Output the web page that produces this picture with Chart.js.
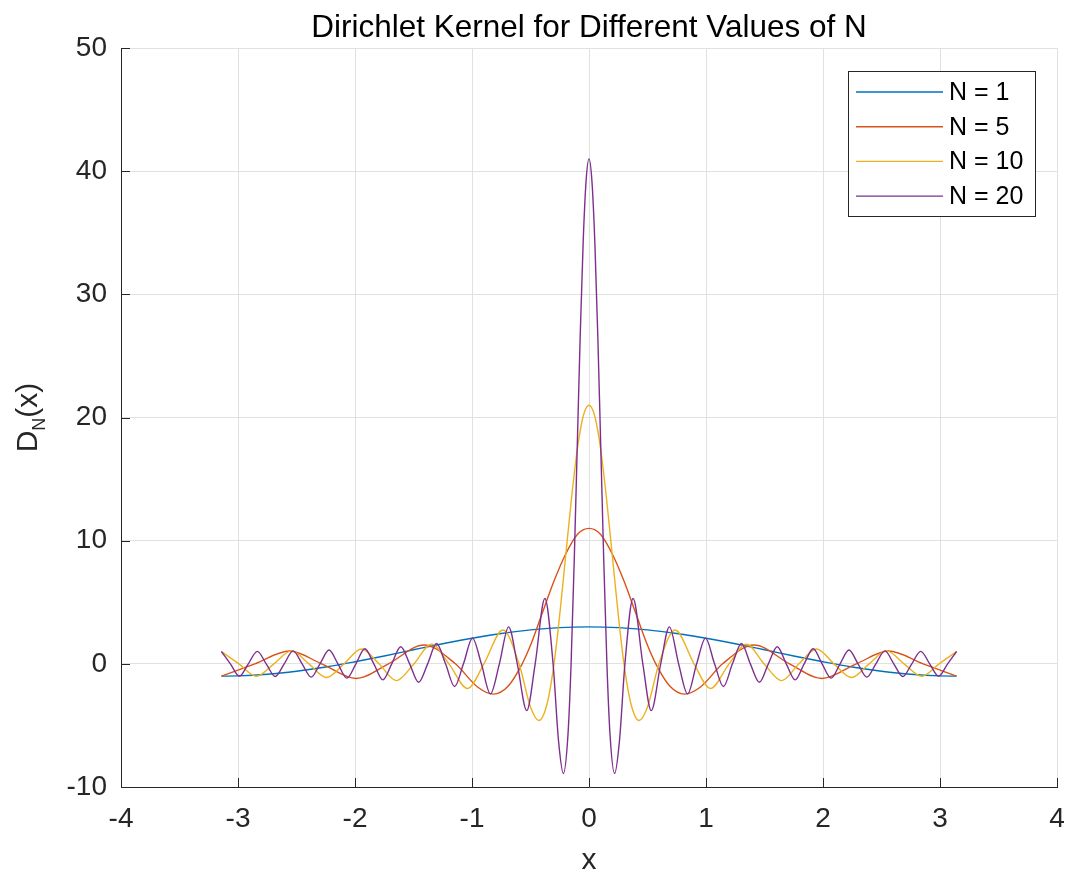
<!DOCTYPE html>
<html>
<head>
<meta charset="utf-8">
<title>Dirichlet Kernel</title>
<script src="https://cdn.jsdelivr.net/npm/chart.js@4.4.1/dist/chart.umd.min.js"></script>
<style>
  html, body { margin: 0; padding: 0; background: #fff; }
  #wrap { width: 1067px; height: 872px; }
</style>
</head>
<body>
<div id="wrap"><canvas id="kernelChart" width="1067" height="872"></canvas></div>
<script>
// ─── Data ──────────────────────────────────────────
const chartTitle = 'Dirichlet Kernel for Different Values of N';
const seriesNames = ['N = 1', 'N = 5', 'N = 10', 'N = 20'];
const seriesColors = ['#0072BD', '#D95319', '#EDB120', '#7E2F8E'];
const xTicks = [-4, -3, -2, -1, 0, 1, 2, 3, 4];
const yTicks = [-10, 0, 10, 20, 30, 40, 50];

const n1X = [-3.142, -3.0, -2.75, -2.5, -2.25, -2.0, -1.75, -1.5, -1.25, -1.0, -0.75, -0.5, -0.25, 0,
  0.25, 0.5, 0.75, 1.0, 1.25, 1.5, 1.75, 2.0, 2.25, 2.5, 2.75, 3.0, 3.142];
const n1Y = [-1.0, -0.98, -0.85, -0.60, -0.26, 0.17, 0.64, 1.14, 1.63, 2.08, 2.46, 2.76, 2.94, 3.0,
  2.94, 2.76, 2.46, 2.08, 1.63, 1.14, 0.64, 0.17, -0.26, -0.60, -0.85, -0.98, -1.0];

const n5X = [-3.142, -2.856, -2.56, -2.285, -1.99, -1.714, -1.41, -1.142, -0.95, -0.817, -0.69, -0.571,
  -0.5, -0.4, -0.3, -0.2, -0.1, 0, 0.1, 0.2, 0.3, 0.4, 0.5,
  0.571, 0.69, 0.817, 0.95, 1.142, 1.41, 1.714, 1.99, 2.285, 2.56, 2.856, 3.142];
const n5Y = [-1.0, 0, 1.04, 0, -1.19, 0, 1.53, 0, -1.9, -2.46, -1.8, 0,
  1.5, 4.1, 6.7, 8.9, 10.5, 11, 10.5, 8.9, 6.7, 4.1, 1.5,
  0, -1.8, -2.46, -1.9, 0, 1.53, 0, -1.19, 0, 1.04, 0, -1.0];

const n10X = [-3.142, -2.992, -2.842, -2.693, -2.543, -2.394, -2.244, -2.094, -1.945, -1.795, -1.646,
  -1.496, -1.346, -1.197, -1.038, -0.898, -0.736, -0.598, -0.5, -0.428, -0.36, -0.299,
  -0.25, -0.2, -0.15, -0.1, -0.05, 0, 0.05, 0.1, 0.15, 0.2, 0.25,
  0.299, 0.36, 0.428, 0.5, 0.598, 0.736, 0.898, 1.038, 1.197, 1.346, 1.496,
  1.646, 1.795, 1.945, 2.094, 2.244, 2.394, 2.543, 2.693, 2.842, 2.992, 3.142];
const n10Y = [1.0, 0, -1.01, 0, 1.05, 0, -1.11, 0, 1.21, 0, -1.36,
  0, 1.6, 0, -2.0, 0, 2.75, 0, -3.5, -4.6, -3.3, 0,
  4.0, 8.7, 13.4, 17.4, 20.1, 21, 20.1, 17.4, 13.4, 8.7, 4.0,
  0, -3.3, -4.6, -3.5, 0, 2.75, 0, -2.0, 0, 1.6, 0,
  -1.36, 0, 1.21, 0, -1.11, 0, 1.05, 0, -1.01, 0, 1.0];

const n20X = [-3.142, -3.065, -2.988, -2.912, -2.835, -2.759, -2.682, -2.605, -2.529, -2.452, -2.375,
  -2.299, -2.222, -2.146, -2.069, -1.992, -1.916, -1.839, -1.762, -1.686, -1.609, -1.533,
  -1.456, -1.379, -1.303, -1.226, -1.149, -1.073, -0.996, -0.920, -0.843, -0.766, -0.687,
  -0.613, -0.532, -0.460, -0.377, -0.307, -0.26, -0.219, -0.18, -0.153, -0.125, -0.1,
  -0.075, -0.05, -0.025, 0, 0.025, 0.05, 0.075, 0.1, 0.125, 0.153, 0.18,
  0.219, 0.26, 0.307, 0.377, 0.460, 0.532, 0.613, 0.687, 0.766, 0.843, 0.920,
  0.996, 1.073, 1.149, 1.226, 1.303, 1.379, 1.456, 1.533, 1.609, 1.686, 1.762,
  1.839, 1.916, 1.992, 2.069, 2.146, 2.222, 2.299, 2.375, 2.452, 2.529, 2.605,
  2.682, 2.759, 2.835, 2.912, 2.988, 3.065, 3.142];
const n20Y = [1.0, 0, -1.0, 0, 1.01, 0, -1.03, 0, 1.05, 0, -1.08,
  0, 1.12, 0, -1.16, 0, 1.22, 0, -1.30, 0, 1.39, 0,
  -1.50, 0, 1.65, 0, -1.84, 0, 2.09, 0, -2.44, 0, 3.0,
  0, -3.8, 0, 5.3, 0, -6.3, -8.9, -5.8, 0, 8.8, 17.8,
  26.7, 34.2, 39.2, 41, 39.2, 34.2, 26.7, 17.8, 8.8, 0, -5.8,
  -8.9, -6.3, 0, 5.3, 0, -3.8, 0, 3.0, 0, -2.44, 0,
  2.09, 0, -1.84, 0, 1.65, 0, -1.50, 0, 1.39, 0, -1.30,
  0, 1.22, 0, -1.16, 0, 1.12, 0, -1.08, 0, 1.05, 0,
  -1.03, 0, 1.01, 0, -1.0, 0, 1.0];

const seriesX = [n1X, n5X, n10X, n20X];
const seriesY = [n1Y, n5Y, n10Y, n20Y];

const AXIS_DARK = '#262626';
const GRID = '#e1e1e1';
Chart.defaults.font.family = "'Liberation Sans', Arial, sans-serif";

// ─── Plugin: MATLAB style title, ticks, labels, legend ─
const matlabAxes = {
  id: 'matlabAxes',
  afterDraw(chart) {
    const { ctx, chartArea: a, scales: { x, y } } = chart;
    ctx.save();

    // title, centred over the plot box
    ctx.fillStyle = '#000';
    ctx.font = "31.5px 'Liberation Sans'";
    ctx.textAlign = 'center';
    ctx.textBaseline = 'alphabetic';
    ctx.fillText(chartTitle, (a.left + a.right) / 2, 37);

    // inward tick marks
    ctx.strokeStyle = AXIS_DARK;
    ctx.lineWidth = 1;
    ctx.beginPath();
    xTicks.forEach(v => {
      const px = Math.round(x.getPixelForValue(v)) + 0.5;
      ctx.moveTo(px, a.bottom); ctx.lineTo(px, a.bottom - 9);
    });
    yTicks.forEach(v => {
      const py = Math.round(y.getPixelForValue(v)) + 0.5;
      ctx.moveTo(a.left, py); ctx.lineTo(a.left + 9, py);
    });
    ctx.stroke();

    // x label
    ctx.fillStyle = AXIS_DARK;
    ctx.font = "30px 'Liberation Sans'";
    ctx.fillText('x', (a.left + a.right) / 2, 869);

    // y label D_N(x), rotated
    const big = "30px 'Liberation Sans'", small = "18px 'Liberation Sans'";
    ctx.font = big; const wD = ctx.measureText('D').width, wX = ctx.measureText('(x)').width;
    ctx.font = small; const wN = ctx.measureText('N').width;
    ctx.translate(37, (a.top + a.bottom) / 2);
    ctx.rotate(-Math.PI / 2);
    ctx.textAlign = 'left';
    let cx = -(wD + wN + wX) / 2;
    ctx.font = big; ctx.fillText('D', cx, 0); cx += wD;
    ctx.font = small; ctx.fillText('N', cx, 8); cx += wN;
    ctx.font = big; ctx.fillText('(x)', cx, 0);
    ctx.setTransform(1, 0, 0, 1, 0, 0);

    // legend box
    const lw = 187, lh = 145;
    const lx = a.right - 22 - lw, ly = a.top + 23;
    ctx.fillStyle = '#fff';
    ctx.fillRect(lx, ly, lw, lh);
    ctx.strokeStyle = AXIS_DARK;
    ctx.strokeRect(Math.round(lx) + 0.5, Math.round(ly) + 0.5, lw, lh);
    ctx.font = "25px 'Liberation Sans'";
    ctx.textBaseline = 'middle';
    ctx.textAlign = 'left';
    seriesNames.forEach((name, i) => {
      const rowY = ly + 21 + i * 34.7;
      ctx.strokeStyle = seriesColors[i];
      ctx.lineWidth = 1.4;
      ctx.beginPath(); ctx.moveTo(lx + 8, rowY); ctx.lineTo(lx + 95, rowY); ctx.stroke();
      ctx.fillStyle = '#000';
      ctx.fillText(name, lx + 101, rowY + 1);
    });
    ctx.restore();
  }
};

// ─── Chart ─────────────────────────────────────────
const datasets = seriesNames.map((name, i) => ({
  label: name,
  data: seriesX[i].map((v, j) => ({ x: v, y: seriesY[i][j] })),
  borderColor: seriesColors[i],
  borderWidth: 1.4,
  pointRadius: 0,
  fill: false,
  cubicInterpolationMode: 'monotone',
  order: seriesNames.length - i
}));

new Chart(document.getElementById('kernelChart'), {
  type: 'line',
  data: { datasets },
  options: {
    responsive: false,
    animation: false,
    devicePixelRatio: 1,
    layout: { padding: { left: 0, right: 10, top: 48, bottom: 0 } },
    plugins: {
      legend: { display: false },
      tooltip: { enabled: false },
      title: { display: false }
    },
    scales: {
      x: {
        type: 'linear', min: -4, max: 4,
        afterBuildTicks: s => { s.ticks = xTicks.map(v => ({ value: v })); },
        afterFit: s => { s.height = 85; s.paddingLeft = 0; s.paddingRight = 0; },
        ticks: { color: AXIS_DARK, font: { size: 28 }, padding: 15, maxRotation: 0 },
        grid: { color: GRID, drawTicks: false },
        border: { color: AXIS_DARK, width: 1 }
      },
      y: {
        type: 'linear', min: -10, max: 50,
        afterBuildTicks: s => { s.ticks = yTicks.map(v => ({ value: v })); },
        afterFit: s => { s.width = 121; s.paddingTop = 0; s.paddingBottom = 0; },
        ticks: { color: AXIS_DARK, font: { size: 28 }, padding: 14 },
        grid: { color: GRID, drawTicks: false },
        border: { color: AXIS_DARK, width: 1 }
      }
    }
  },
  plugins: [matlabAxes]
});
</script>
</body>
</html>
